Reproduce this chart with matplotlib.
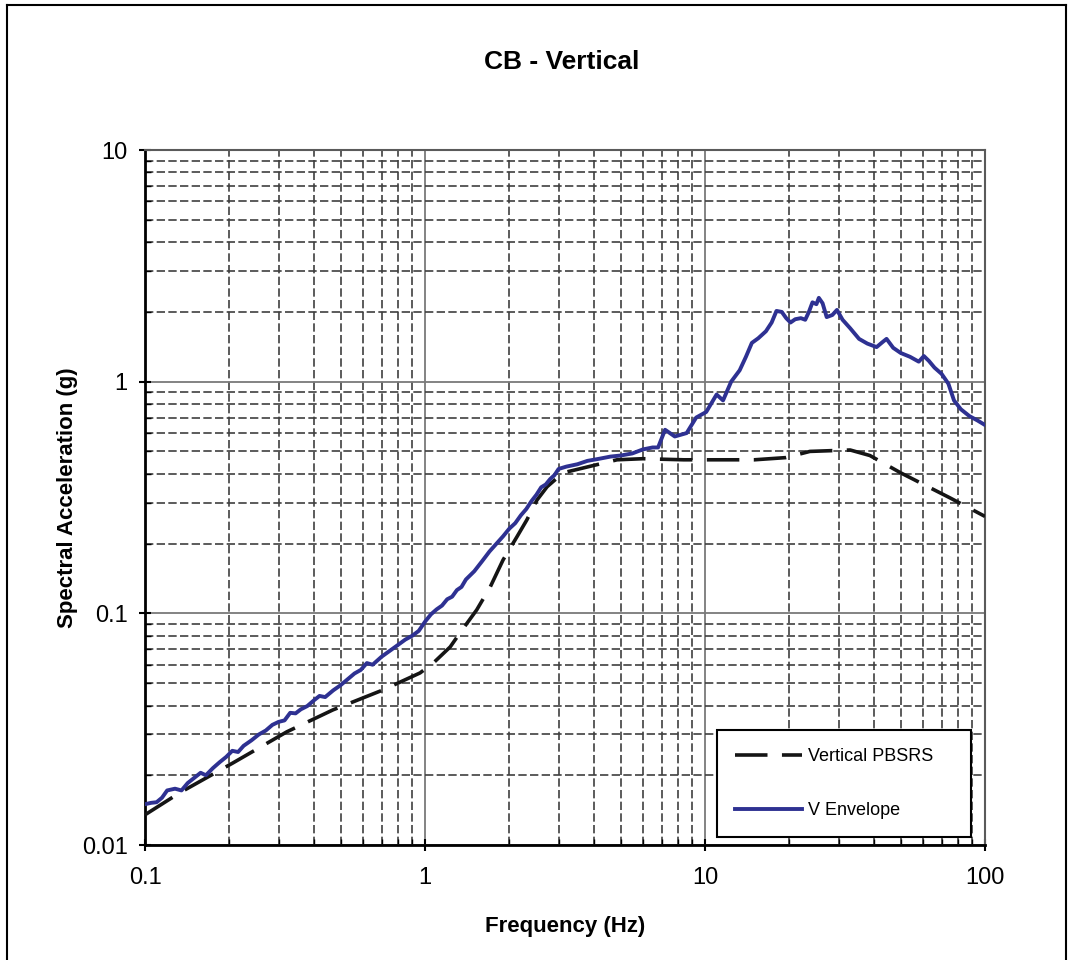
import matplotlib
matplotlib.use("Agg")
import matplotlib.pyplot as plt
from matplotlib.lines import Line2D
from matplotlib.ticker import LogLocator, FixedLocator, NullFormatter, FuncFormatter

plt.rcParams['font.family'] = ['Liberation Sans', 'DejaVu Sans']

# Vertical PBSRS (design spectrum)
pbsrs_freq = [0.10, 0.133, 0.206, 0.321, 0.469, 0.708, 0.96, 1.07, 1.23, 1.33,
              1.53, 1.71, 1.90, 2.13, 2.31, 2.51, 2.73, 3.11, 3.67, 4.85,
              6.0, 8.4, 15.0, 19.4, 23.7, 33.0, 38.8, 50.0, 75.0, 100.0]
pbsrs_sa = [0.0135, 0.0168, 0.0226, 0.0308, 0.0383, 0.0467, 0.0553, 0.061, 0.0716, 0.082,
            0.1035, 0.130, 0.170, 0.214, 0.253, 0.308, 0.352, 0.404, 0.424, 0.46,
            0.465, 0.46, 0.46, 0.47, 0.50, 0.507, 0.48, 0.404, 0.315, 0.262]

# V Envelope spectrum
env_freq = [0.100, 0.105, 0.110, 0.115, 0.120, 0.128, 0.135, 0.142, 0.150, 0.158,
            0.165, 0.175, 0.185, 0.195, 0.205, 0.215, 0.225, 0.240, 0.255, 0.270,
            0.285, 0.300, 0.315, 0.330, 0.345, 0.360, 0.380, 0.400, 0.420, 0.440,
            0.470, 0.500, 0.530, 0.560, 0.590, 0.620, 0.650, 0.700, 0.750, 0.800,
            0.850, 0.900, 0.950, 1.000, 1.050, 1.100, 1.150, 1.200, 1.250, 1.300,
            1.350, 1.400, 1.450, 1.500, 1.600, 1.700, 1.800, 1.900, 2.000, 2.100,
            2.200, 2.300, 2.400, 2.500, 2.600, 2.700, 2.800, 2.900, 3.000, 3.200,
            3.500, 3.800, 4.200, 4.600, 5.000, 5.500, 6.000, 6.500, 6.800, 7.200,
            7.800, 8.600, 9.300, 10.1, 11.0, 11.6, 12.4, 13.3, 14.0, 14.7,
            15.5, 16.5, 17.3, 18.0, 18.8, 19.5, 20.2, 21.0, 22.0, 22.8,
            23.5, 24.2, 25.0, 25.5, 26.3, 27.2, 28.5, 29.6, 31.0, 33.0,
            35.5, 38.0, 41.0, 43.0, 44.5, 47.0, 50.0, 54.0, 58.0, 60.5,
            63.0, 66.0, 70.0, 74.0, 77.5, 82.0, 88.0, 94.0, 100.0]
env_sa = [0.0150, 0.0152, 0.0153, 0.0160, 0.0172, 0.0175, 0.0172, 0.0185, 0.0195, 0.0205,
          0.0200, 0.0215, 0.0228, 0.0240, 0.0255, 0.0252, 0.0268, 0.0283, 0.0300, 0.0312,
          0.0330, 0.0340, 0.0345, 0.0372, 0.0370, 0.0385, 0.0398, 0.0420, 0.0440, 0.0435,
          0.0465, 0.0490, 0.0520, 0.0550, 0.0570, 0.0610, 0.0600, 0.0650, 0.0690, 0.0730,
          0.0770, 0.0800, 0.0840, 0.0920, 0.0990, 0.1040, 0.1080, 0.1150, 0.1180, 0.1260,
          0.1300, 0.1400, 0.1460, 0.1520, 0.1680, 0.1850, 0.2000, 0.2150, 0.2320, 0.2450,
          0.2650, 0.2820, 0.3050, 0.3250, 0.3500, 0.3600, 0.3800, 0.3950, 0.4200, 0.4300,
          0.4400, 0.4550, 0.4650, 0.4750, 0.4800, 0.4900, 0.5100, 0.5200, 0.5200, 0.6200,
          0.5800, 0.6000, 0.7000, 0.7400, 0.8800, 0.8300, 1.0000, 1.1200, 1.2800, 1.4700,
          1.5400, 1.6500, 1.8000, 2.0200, 2.0000, 1.8800, 1.8000, 1.8600, 1.8800, 1.8500,
          2.0000, 2.2000, 2.1600, 2.3000, 2.1800, 1.9000, 1.9400, 2.0400, 1.8500, 1.7000,
          1.5300, 1.4600, 1.4100, 1.4800, 1.5300, 1.4000, 1.3300, 1.2800, 1.2200, 1.2900,
          1.2300, 1.1500, 1.0800, 0.9800, 0.8300, 0.7600, 0.7100, 0.6800, 0.6500]

x_ticks = [0.1, 1, 10, 100]
y_ticks = [0.01, 0.1, 1, 10]

W, H = 1069, 960
fig = plt.figure(figsize=(W / 100, H / 100), dpi=100)
fig.patch.set_facecolor('white')

ax = fig.add_axes([145 / W, 1 - 845 / H, 840 / W, 695 / H])
ax.set_xscale('log')
ax.set_yscale('log')
ax.set_xlim(0.1, 100)
ax.set_ylim(0.01, 10)

minor_subs = [2, 3, 4, 5, 6, 7, 8, 9]
ax.xaxis.set_major_locator(FixedLocator(x_ticks))
ax.yaxis.set_major_locator(FixedLocator(y_ticks))
ax.xaxis.set_minor_locator(LogLocator(base=10, subs=minor_subs))
ax.yaxis.set_minor_locator(LogLocator(base=10, subs=minor_subs))
ax.xaxis.set_minor_formatter(NullFormatter())
ax.yaxis.set_minor_formatter(NullFormatter())
fmt = FuncFormatter(lambda v, p: f"{v:g}")
ax.xaxis.set_major_formatter(fmt)
ax.yaxis.set_major_formatter(fmt)

# Grid: solid gray at decades, dashed dark gray at sub-decades
ax.grid(True, which='major', color='#7a7a7a', linestyle='-', linewidth=1.3, zorder=0)
ax.grid(True, which='minor', color='#3f3f3f', linestyle=(0, (5, 2)), linewidth=1.2, zorder=0)
ax.set_axisbelow(True)

ax.tick_params(which='major', direction='inout', length=9, width=1.5, labelsize=17,
               color='black')
ax.tick_params(axis='x', which='major', pad=11)
ax.tick_params(axis='y', which='major', pad=8)
ax.tick_params(which='minor', direction='in', length=4, width=1.0, color='black')

for side in ('left', 'bottom'):
    ax.spines[side].set_color('black')
    ax.spines[side].set_linewidth(2.0)
for side in ('top', 'right'):
    ax.spines[side].set_color('#5a5a5a')
    ax.spines[side].set_linewidth(1.5)

ax.plot(pbsrs_freq, pbsrs_sa, color='#151515', linewidth=2.6,
        linestyle=(0, (9, 4)), label='Vertical PBSRS', zorder=3)
ax.plot(env_freq, env_sa, color='#2e3192', linewidth=2.8,
        label='V Envelope', zorder=4)

ax.set_xlabel('Frequency (Hz)', fontsize=16, fontweight='bold', labelpad=20)
ax.set_ylabel('Spectral Acceleration (g)', fontsize=16, fontweight='bold')
ax.yaxis.set_label_coords((78 - 145) / 840, 0.5)

fig.text(562 / W, 1 - 62 / H, 'CB - Vertical', fontsize=19, fontweight='bold',
         ha='center', va='center')

leg = ax.legend(loc='lower left',
                bbox_to_anchor=(717 / W, 1 - 837 / H, 254 / W, 108 / H),
                bbox_transform=fig.transFigure, borderaxespad=0, mode='expand',
                fontsize=13, handlelength=3.7, handletextpad=0.35,
                labelspacing=2.05, borderpad=1.0, fancybox=False,
                framealpha=1, edgecolor='black')
leg.get_frame().set_linewidth(1.5)

# Outer chart border
border = dict(color='black', linewidth=1.5, transform=fig.transFigure)
fig.lines.append(Line2D([7 / W, 7 / W], [0, 1 - 5 / H], **border))
fig.lines.append(Line2D([7 / W, 1066 / W], [1 - 5 / H, 1 - 5 / H], **border))
fig.lines.append(Line2D([1066 / W, 1066 / W], [0, 1 - 5 / H], **border))

fig.savefig('out.png', dpi=100, facecolor='white')
